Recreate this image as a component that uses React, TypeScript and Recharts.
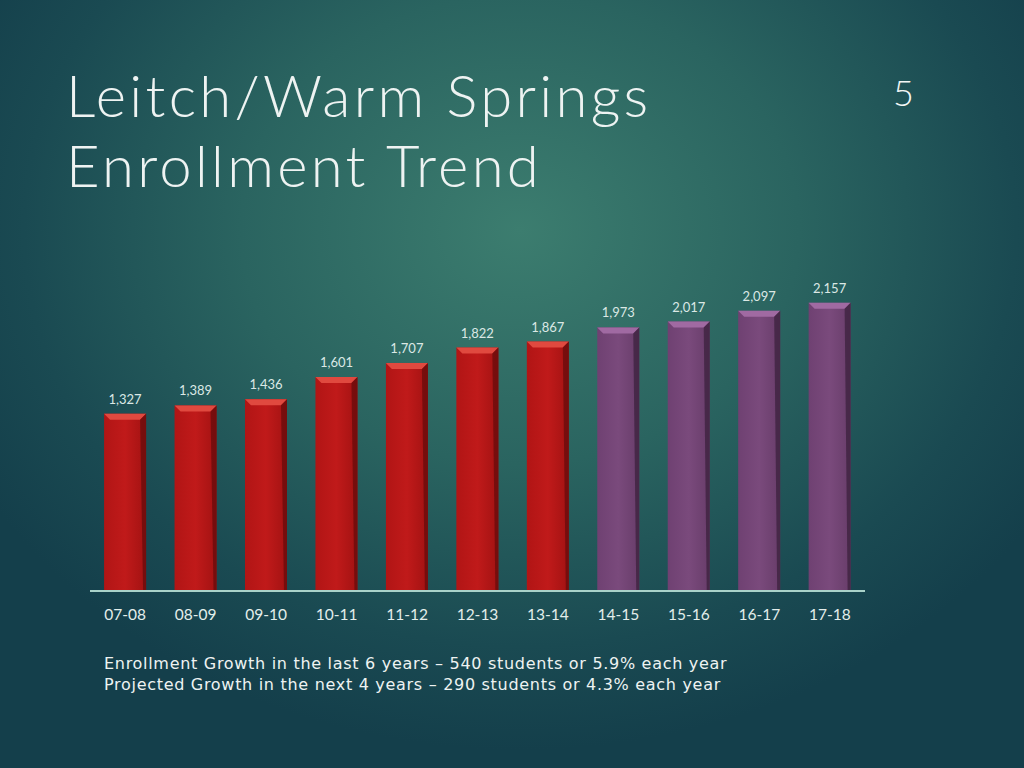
import { BarChart, Bar, XAxis, YAxis, LabelList, Cell } from "recharts";

const years = ["07-08", "08-09", "09-10", "10-11", "11-12", "12-13", "13-14", "14-15", "15-16", "16-17", "17-18"];
const enrollment = [1327, 1389, 1436, 1601, 1707, 1822, 1867, 1973, 2017, 2097, 2157];
const projected = [false, false, false, false, false, false, false, true, true, true, true];

const notes = [
  "Enrollment Growth in the last 6 years \u2013 540 students or 5.9% each year",
  "Projected Growth in the next 4 years \u2013 290 students or 4.3% each year",
];

const data = years.map((y, i) => ({ year: y, value: enrollment[i], projected: projected[i] }));

const RED = "#c01a1a";
const PURPLE = "#7a4a7c";

// beveled 3D-ish bar
const BevelBar = (props: any) => {
  const { x, y, width, height, payload } = props;
  if (!height || height <= 0) return null;
  const proj = payload.projected;
  const id = proj ? "p" : "r";
  const b = 6;
  return (
    <g>
      <rect x={x} y={y} width={width} height={height} fill={`url(#body-${id})`} />
      <polygon
        points={`${x},${y} ${x + width},${y} ${x + width - b},${y + b} ${x + b},${y + b}`}
        fill={proj ? "#a06aa2" : "#e0493f"}
      />
      <polygon
        points={`${x + width},${y} ${x + width},${y + height} ${x + width - 3},${y + height} ${x + width - b},${y + b}`}
        fill={proj ? "#3e2340" : "#6a0d0d"}
        opacity={0.8}
      />
    </g>
  );
};

const App = () => {
  return (
    <div
      style={{
        position: "absolute",
        left: 0,
        top: 0,
        width: 1024,
        height: 768,
        overflow: "hidden",
        background: "radial-gradient(ellipse 620px 520px at 520px 230px, #3c7d6f 0%, #2a6460 45%, #1a4a52 80%, #143f4b 100%)",
        fontFamily: "Lato, 'DejaVu Sans', sans-serif",
      }}
    >
      <div
        style={{
          position: "absolute",
          left: 66,
          top: 60,
          color: "#eef3f2",
          fontSize: 58,
          fontWeight: 300,
          lineHeight: "70px",
          letterSpacing: 3.3,
        }}
      >
        Leitch/Warm Springs
        <br />
        Enrollment Trend
      </div>
      <div style={{ position: "absolute", left: 893, top: 70, color: "#f2f6f5", fontSize: 36, fontWeight: 300 }}>5</div>

      <div style={{ position: "absolute", left: 0, top: 0 }}>
        <BarChart
          width={1024}
          height={768}
          data={data}
          margin={{ top: 257, left: 90, right: 159, bottom: 147 }}
          barCategoryGap="20%"
        >
          <defs>
            <linearGradient id="body-r" x1="0" y1="0" x2="1" y2="0">
              <stop offset="0%" stopColor="#b11515" />
              <stop offset="50%" stopColor={RED} />
              <stop offset="100%" stopColor="#a21212" />
            </linearGradient>
            <linearGradient id="body-p" x1="0" y1="0" x2="1" y2="0">
              <stop offset="0%" stopColor="#6f4172" />
              <stop offset="50%" stopColor={PURPLE} />
              <stop offset="100%" stopColor="#683d6a" />
            </linearGradient>
          </defs>
          <YAxis hide domain={[0, 2500]} />
          <XAxis
            dataKey="year"
            axisLine={{ stroke: "#a9d2c9", strokeWidth: 2 }}
            tickLine={false}
            tick={{ fill: "#e3eeeb", fontSize: 15.5, fontFamily: "Lato, 'DejaVu Sans', sans-serif" }}
            tickMargin={12}
          />
          <Bar dataKey="value" shape={BevelBar} isAnimationActive={false}>
            {data.map((d, i) => (
              <Cell key={i} fill={d.projected ? PURPLE : RED} />
            ))}
            <LabelList
              dataKey="value"
              position="top"
              offset={10}
              formatter={(v: any) => Number(v).toLocaleString("en-US")}
              style={{ fill: "#dbe8e5", fontSize: 13, fontFamily: "Lato, 'DejaVu Sans', sans-serif" }}
            />
          </Bar>
        </BarChart>
      </div>

      <div
        style={{
          position: "absolute",
          left: 104,
          top: 653,
          color: "#eef3f2",
          fontSize: 16,
          lineHeight: "21px",
          letterSpacing: 0.7,
          fontFamily: "'DejaVu Sans', Verdana, sans-serif",
        }}
      >
        {notes.map((n, i) => (
          <div key={i}>{n}</div>
        ))}
      </div>
    </div>
  );
};

export default App;
